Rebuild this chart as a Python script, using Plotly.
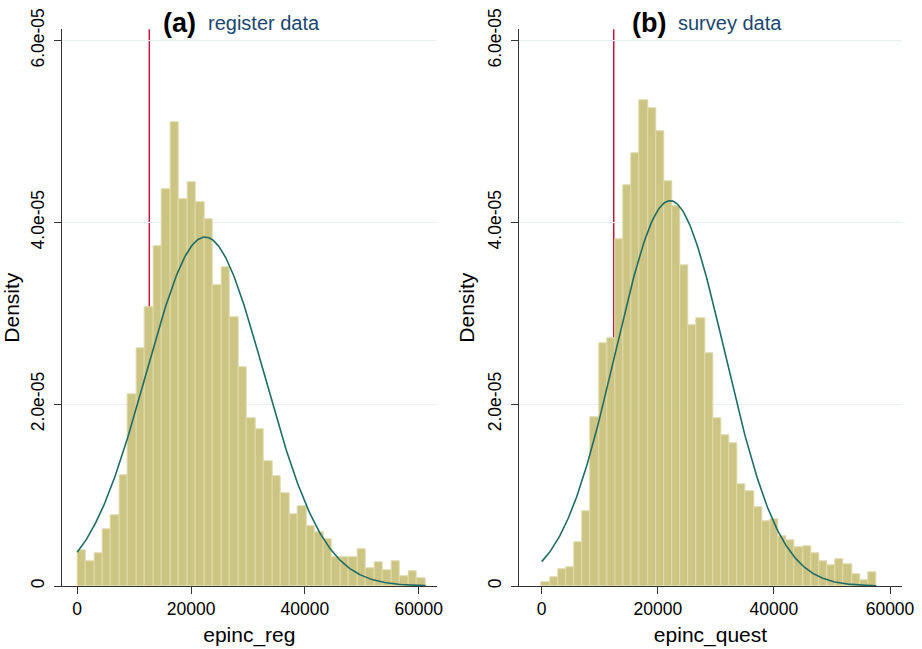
import numpy as np
import plotly.graph_objects as go

# ---------------- data ----------------
reg_bin_start = 0
reg_bin_width = 1493
reg_density_e5 = [0.396, 0.267, 0.36, 0.624, 0.778, 1.218, 2.11, 2.616, 3.06, 3.735,
                  4.36, 5.10, 4.256, 4.44, 4.22, 4.03, 3.31, 3.50, 2.95, 2.41,
                  1.85, 1.728, 1.368, 1.203, 1.02, 0.789, 0.873, 0.653, 0.587, 0.517,
                  0.312, 0.312, 0.314, 0.404, 0.195, 0.264, 0.176, 0.275, 0.102, 0.157, 0.085]
reg_mean = 22460
reg_sd = 10395
reg_line = 12670

quest_bin_start = 0
quest_bin_width = 1406
quest_density_e5 = [0.036, 0.092, 0.187, 0.202, 0.484, 0.826, 1.86, 2.664, 2.726, 3.81,
                    4.41, 4.755, 5.34, 5.25, 5.0, 4.447, 4.175, 3.526, 2.87, 2.94,
                    2.56, 1.846, 1.655, 1.57, 1.123, 1.046, 0.862, 0.716, 0.734, 0.543,
                    0.506, 0.422, 0.44, 0.36, 0.275, 0.231, 0.294, 0.242, 0.132, 0.066, 0.146]
quest_mean = 22120
quest_sd = 9414
quest_line = 12410

x_tickvals = [0, 20000, 40000, 60000]
x_ticktext = ["0", "20000", "40000", "60000"]
y_tickvals = [0, 2e-5, 4e-5, 6e-5]
y_ticktext = ["0", "2.0e-05", "4.0e-05", "6.0e-05"]

panels = [
    dict(tag="(a)", name="register data", xtitle="epinc_reg", start=reg_bin_start,
         width=reg_bin_width, dens=reg_density_e5, mean=reg_mean, sd=reg_sd, vline=reg_line),
    dict(tag="(b)", name="survey data", xtitle="epinc_quest", start=quest_bin_start,
         width=quest_bin_width, dens=quest_density_e5, mean=quest_mean, sd=quest_sd, vline=quest_line),
]

# ---------------- style ----------------
W, H = 922, 649
FONT = "Liberation Sans, Arial, Helvetica, sans-serif"
BAR_FILL = "#CBC483"
BAR_EDGE = "#DEDAA8"
CURVE = "#1F6D67"
VLINE = "#C8143C"
TITLE_BLUE = "#1A476F"
GRID = "#E8F0F2"
AXIS = "#333333"

x_domains = [[61.7 / W, 437 / W], [519.3 / W, 901.7 / W]]
x_ranges = [[-2723, 63210], [-3859, 62016]]
y_domain = [1 - 586 / H, 1 - 29.3 / H]
y_range = [0, 6.123e-5]
title_pos = [dict(split=202), dict(split=672)]

fig = go.Figure()
layout = dict(
    width=W, height=H,
    margin=dict(l=0, r=0, t=0, b=0, autoexpand=False),
    paper_bgcolor="white", plot_bgcolor="white",
    showlegend=False, bargap=0,
    font=dict(family=FONT, color="black"),
)

annotations = []
shapes = []
for i, p in enumerate(panels):
    xa = "x" if i == 0 else "x2"
    ya = "y" if i == 0 else "y2"
    n = len(p["dens"])
    edges = p["start"] + p["width"] * np.arange(n + 1)
    centers = (edges[:-1] + edges[1:]) / 2
    dens = np.array(p["dens"]) * 1e-5
    fig.add_trace(go.Bar(x=centers, y=dens, width=[p["width"]] * n,
                         marker=dict(color=BAR_FILL, line=dict(color=BAR_EDGE, width=1)),
                         xaxis=xa, yaxis=ya, hoverinfo="skip"))
    xs = np.linspace(edges[0], edges[-1], 300)
    ys = np.exp(-0.5 * ((xs - p["mean"]) / p["sd"]) ** 2) / (p["sd"] * np.sqrt(2 * np.pi))
    fig.add_trace(go.Scatter(x=xs, y=ys, mode="lines", line=dict(color=CURVE, width=1.6),
                             xaxis=xa, yaxis=ya, hoverinfo="skip"))
    shapes.append(dict(type="line", xref=xa, yref=f"{ya} domain", x0=p["vline"], x1=p["vline"],
                       y0=0, y1=1, line=dict(color=VLINE, width=1.5), layer="below"))

    key_x = "xaxis" if i == 0 else "xaxis2"
    key_y = "yaxis" if i == 0 else "yaxis2"
    layout[key_x] = dict(
        domain=x_domains[i], range=x_ranges[i], anchor=ya, automargin=False,
        tickvals=x_tickvals, ticktext=x_ticktext, ticks="outside", ticklen=7,
        tickcolor=AXIS, tickwidth=1, showline=True, linecolor=AXIS, linewidth=1,
        showgrid=False, zeroline=False,
        tickfont=dict(size=17.5, color="black"),
        title=dict(text=p["xtitle"], font=dict(size=21, color="black"), standoff=9),
    )
    layout[key_y] = dict(
        domain=y_domain, range=y_range, anchor=xa, automargin=False,
        tickvals=y_tickvals, ticktext=y_ticktext, ticks="outside", ticklen=7,
        tickcolor=AXIS, tickwidth=1, showline=True, linecolor=AXIS, linewidth=1,
        showgrid=True, gridcolor=GRID, gridwidth=1, zeroline=False,
        tickangle=-90, tickfont=dict(size=17.5, color="black"), ticklabelstandoff=3,
        title=dict(text="Density", font=dict(size=21, color="black"), standoff=4),
    )
    sp = title_pos[i]["split"]
    annotations.append(dict(text=f"<b>{p['tag']}</b>", xref="paper", yref="paper",
                            x=(sp - 4) / W, y=1 - 23 / H, xanchor="right", yanchor="middle",
                            showarrow=False, font=dict(size=27, color="black")))
    annotations.append(dict(text=p["name"], xref="paper", yref="paper",
                            x=(sp + 4) / W, y=1 - 22.5 / H, xanchor="left", yanchor="middle",
                            showarrow=False, font=dict(size=20, color=TITLE_BLUE)))

layout["annotations"] = annotations
layout["shapes"] = shapes
fig.update_layout(**layout)
fig.write_html("out.html")
